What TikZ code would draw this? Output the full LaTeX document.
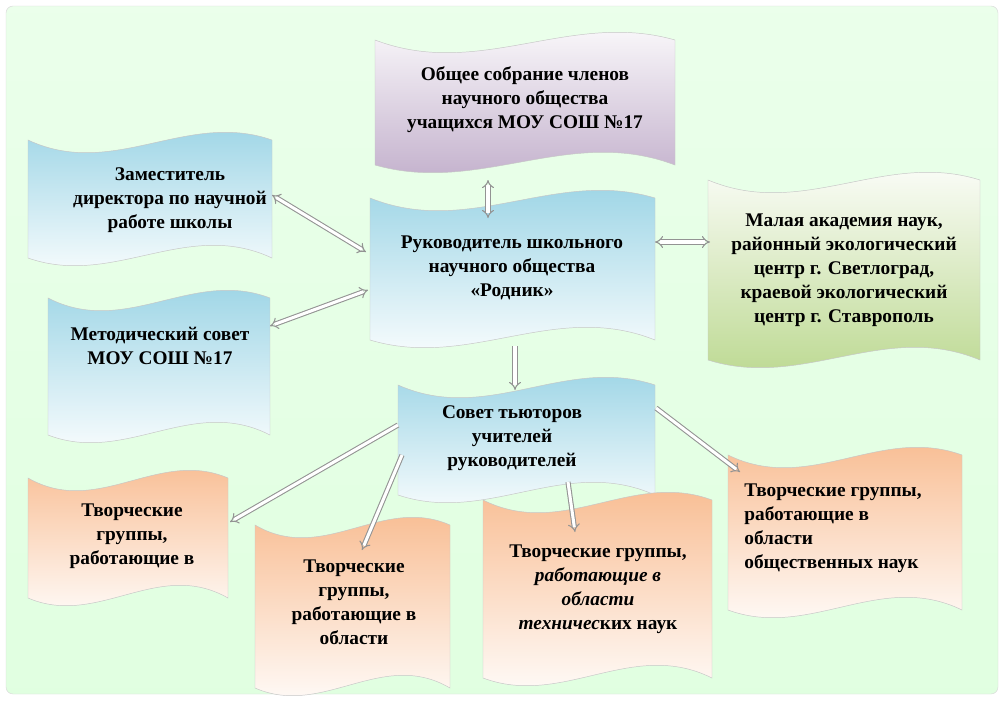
\documentclass[tikz,border=0pt]{standalone}
\usepackage{fontspec}
\setmainfont{Liberation Serif}
\newfontfamily\boxfont{Liberation Serif}
\usetikzlibrary{arrows.meta}
\definecolor{skyc}{RGB}{150,210,228}
\definecolor{lilacc}{RGB}{190,170,200}
\definecolor{leafc}{RGB}{185,215,140}
\definecolor{peachc}{RGB}{248,185,140}
\newcommand\wavebox[5]{%
  \shade[#5,draw=gray!45,thin] (#1,#2)
    .. controls ({#1+0.35*(#3-#1)},{#2+40}) and ({#1+0.65*(#3-#1)},{#2-30}) .. (#3,#2)
    -- (#3,#4)
    .. controls ({#3-0.35*(#3-#1)},{#4-40}) and ({#3-0.65*(#3-#1)},{#4+30}) .. (#1,#4) -- cycle;}
\tikzset{
  lilac/.style={top color=white, bottom color=lilacc},
  sky/.style={top color=skyc, bottom color=white},
  leaf/.style={top color=white, bottom color=leafc},
  peach/.style={top color=peachc, bottom color=white},
  txt/.style={font=\boxfont\fontsize{16.5}{20.5}\selectfont\bfseries, align=center},
  link/.style={draw=gray!85, double=white, double distance=2.6pt, line width=0.9pt, {Implies}-{Implies}},
  to/.style={draw=gray!85, double=white, double distance=2.6pt, line width=0.9pt, -{Implies}}
}
\begin{document}
\begin{tikzpicture}[x=0.03cm,y=-0.03cm]
% background
  \fill[white] (0,0) rectangle (1006,704);
  \shade[top color=green!8!white, bottom color=green!12!white, draw=gray!30, rounded corners=6]
    (6,6) rectangle (998,694);
% boxes
  \wavebox{375}{40}{675}{165}{lilac}
  \wavebox{28}{140}{272}{258}{sky}
  \wavebox{370}{198}{655}{340}{sky}
  \wavebox{708}{180}{980}{360}{leaf}
  \wavebox{48}{298}{270}{435}{sky}
  \wavebox{398}{385}{655}{495}{sky}
  \wavebox{28}{478}{228}{598}{peach}
  \wavebox{255}{525}{450}{688}{peach}
  \wavebox{483}{500}{712}{678}{peach}
  \wavebox{728}{455}{962}{610}{peach}
% texts
  \node[txt] (meeting) at (525,100) {Общее собрание членов\\научного общества\\учащихся МОУ СОШ №17};
  \node[txt] (deputy) at (170,200) {Заместитель\\директора по научной\\работе школы};
  \node[txt] (head) at (512,268) {Руководитель школьного\\научного общества\\«Родник»};
  \node[txt] (academy) at (844,270) {Малая академия наук,\\районный экологический\\центр г. Светлоград,\\краевой экологический\\центр г. Ставрополь};
  \node[txt] (method) at (160,346) {Методический совет\\МОУ СОШ №17};
  \node[txt] (tutors) at (512,438) {Совет тьюторов\\учителей\\руководителей};
  \node[txt] (groupA) at (132,536) {Творческие\\группы,\\работающие в};
  \node[txt] (groupB) at (354,602) {Творческие\\группы,\\работающие в\\области};
  \node[txt] (groupC) at (598,589) {Творческие группы,\\\textit{работающие в}\\\textit{области}\\\textit{техничес}ких наук};
  \node[txt, align=left] (groupD) at (833,528) {Творческие группы,\\работающие в\\области\\общественных наук};
% connectors
  \coordinate (m1) at (488,180); \coordinate (h1) at (488,218);
  \coordinate (d1) at (272,195); \coordinate (h2) at (366,252);
  \coordinate (s1) at (270,326); \coordinate (h3) at (368,290);
  \coordinate (h4) at (655,242); \coordinate (a1) at (710,242);
  \coordinate (h5) at (515,346); \coordinate (t1) at (515,390);
  \coordinate (t2) at (398,425); \coordinate (gA) at (230,522);
  \coordinate (t3) at (402,455); \coordinate (gB) at (362,550);
  \coordinate (t4) at (568,482); \coordinate (gC) at (575,532);
  \coordinate (t5) at (656,408); \coordinate (gD) at (740,472);
  \draw[link] (m1) -- (h1);
  \draw[link] (d1) -- (h2);
  \draw[link] (s1) -- (h3);
  \draw[link] (h4) -- (a1);
  \draw[to] (h5) -- (t1);
  \draw[to] (t2) -- (gA);
  \draw[to] (t3) -- (gB);
  \draw[to] (t4) -- (gC);
  \draw[to] (t5) -- (gD);
\end{tikzpicture}
\end{document}
